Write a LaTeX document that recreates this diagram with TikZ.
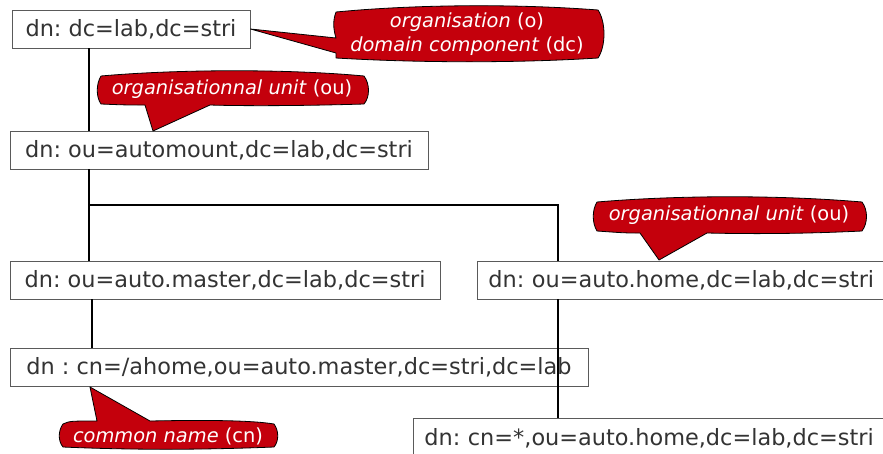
\documentclass[tikz,border=0pt]{standalone}
\usepackage{fontspec}
\setmainfont{DejaVu Sans}
\frenchspacing
\definecolor{calred}{RGB}{196,0,12}
\definecolor{boxgray}{RGB}{90,90,90}
\definecolor{textgray}{RGB}{51,51,51}
\begin{document}
\frenchspacing
\begin{tikzpicture}[x=1pt,y=-1pt,
  box/.style={draw=boxgray, line width=0.9pt, fill=white, text=textgray,
    font=\fontsize{22.4}{26}\selectfont\frenchspacing, minimum height=38pt, inner xsep=0pt, inner ysep=0pt},
  openbox/.style={box, align=left, inner xsep=11pt},
  conn/.style={line width=2pt, black},
  bubble/.style={fill=calred, draw=black, line width=0.8pt, line join=round},
  btext/.style={text=white, font=\fontsize{19.4}{24}\selectfont, align=center, inner sep=0pt}]
\useasboundingbox (0,0) rectangle (883,453);
\clip (0,0) rectangle (883,453);

% connector helper coordinates
\coordinate (xa) at (89,0);
\coordinate (xb) at (92,0);
\coordinate (xc) at (558,0);
\coordinate (yh) at (0,205);

% boxes
\node[box, minimum width=238pt] (b1) at (131,29) {dn: dc=lab,dc=stri};
\node[box, minimum width=418pt] (b2) at (219,150) {dn: ou=automount,dc=lab,dc=stri};
\node[box, minimum width=430pt] (b3) at (225,280) {dn: ou=auto.master,dc=lab,dc=stri};
\node[openbox, anchor=west, text width=420pt] (b4) at (477,280) {dn: ou=auto.home,dc=lab,dc=stri};
\node[box, minimum width=578pt] (b5) at (299,367.5) {dn : cn=/ahome,ou=auto.master,dc=stri,dc=lab};
\node[openbox, anchor=north west, text width=460pt, minimum height=40pt] (b6) at (413,418) {dn: cn=*,ou=auto.home,dc=lab,dc=stri};

% connectors
\draw[conn] (b1.south -| xa) -- (b2.north -| xa);
\draw[conn] (b2.south -| xa) -- (b3.north -| xa);
\draw[conn] (xa |- yh) -| (b4.north -| xc);
\draw[conn] (b3.south -| xb) -- (b5.north -| xb);
\draw[conn] (b4.south -| xc) -- (b6.north -| xc);

% callout 1 (organisation / domain component)
\path[bubble] (336,12) .. controls (420,4) and (520,4) .. (598,10)
  .. controls (606,22) and (606,46) .. (598,58)
  .. controls (520,63) and (420,63) .. (336,58) -- (336,53) -- (b1.east) -- (336,38)
  .. controls (333,28) and (333,20) .. cycle;
\node[btext] (t1) at (467,34) {\textit{organisation} (o)\\\textit{domain component} (dc)};

% callout 2 (organisationnal unit, top)
\path[bubble] (101,76) .. controls (180,69) and (290,69) .. (364,76)
  .. controls (370,84) and (370,97) .. (364,104)
  .. controls (300,106) and (240,106) .. (210,105) -- (153,131) -- (145,105)
  .. controls (125,105) .. (101,104)
  .. controls (96,97) and (96,84) .. cycle;
\node[btext] (t2) at (232,89) {\textit{organisationnal unit} (ou)};

% callout 3 (organisationnal unit, right)
\path[bubble] (597,202) .. controls (680,195) and (780,195) .. (862,202)
  .. controls (868,210) and (868,223) .. (862,231)
  .. controls (800,234) and (750,234) .. (707,233) -- (659,260) -- (640,233)
  .. controls (625,233) .. (597,231)
  .. controls (592,223) and (592,210) .. cycle;
\node[btext] (t3) at (729,215) {\textit{organisationnal unit} (ou)};

% callout 4 (common name)
\path[bubble] (63,424) .. controls (70,421) .. (97,421) -- (90,387) -- (150,421)
  .. controls (200,420) and (250,420) .. (274,424)
  .. controls (279,431) and (279,441) .. (274,447)
  .. controls (200,450) and (130,450) .. (63,447)
  .. controls (58,441) and (58,431) .. cycle;
\node[btext] (t4) at (168,436) {\textit{common name} (cn)};
\end{tikzpicture}
\end{document}
